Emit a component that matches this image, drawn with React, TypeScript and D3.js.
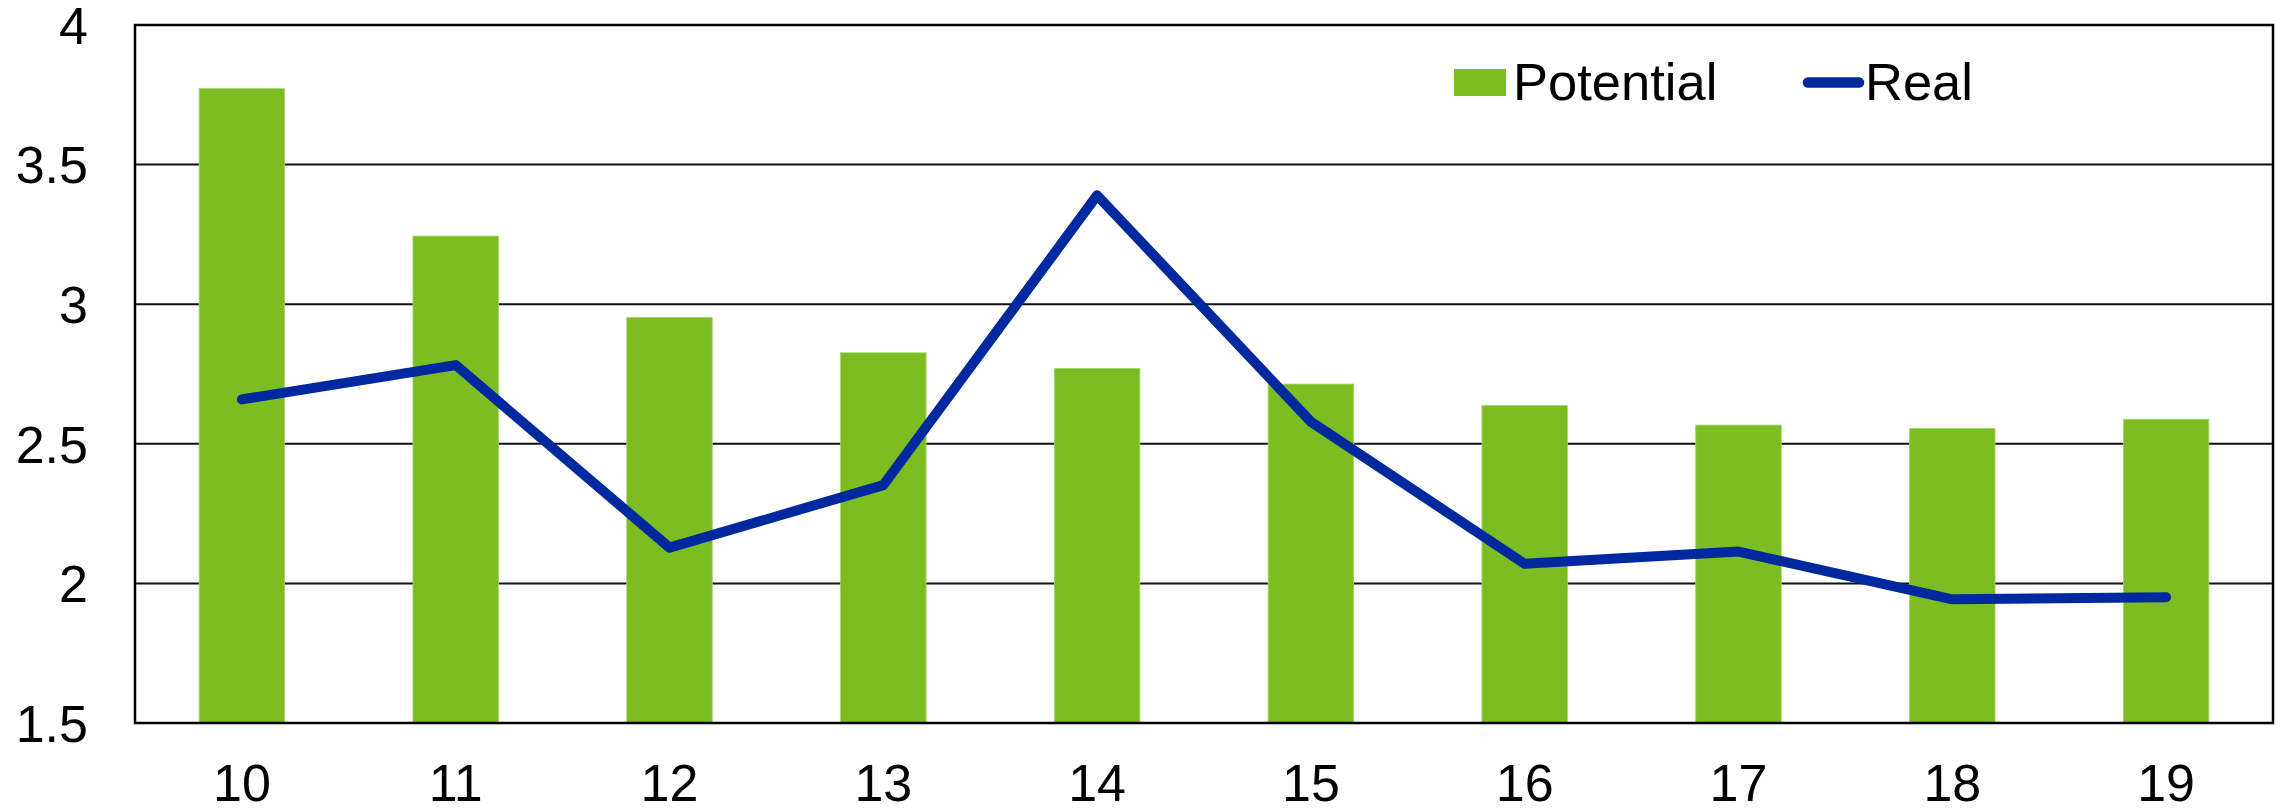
import React from "react";
import * as d3 from "d3";

const categories = ["10", "11", "12", "13", "14", "15", "16", "17", "18", "19"];
const potential = [3.772, 3.244, 2.952, 2.826, 2.77, 2.714, 2.637, 2.567, 2.555, 2.588];
const real = [2.659, 2.782, 2.128, 2.352, 3.39, 2.579, 2.07, 2.114, 1.943, 1.95];
const yTicks = [1.5, 2, 2.5, 3, 3.5, 4];
const yTickLabels = ["1.5", "2", "2.5", "3", "3.5", "4"];
const legendLabels = ["Potential", "Real"];

const W = 2280;
const H = 808;
const plot = { left: 135, right: 2273, top: 25, bottom: 723 };
const GREEN = "#7BBD22";
const BLUE = "#0029A0";
const FONT = "'Liberation Sans', Arial, sans-serif";

export default function App() {
  const x = d3
    .scaleBand<string>()
    .domain(categories)
    .range([plot.left, plot.right])
    .paddingInner(0.6)
    .paddingOuter(0.3);
  const y = d3.scaleLinear().domain([1.5, 4]).range([plot.bottom, plot.top]);

  const line = d3
    .line<number>()
    .x((_, i) => (x(categories[i]) as number) + x.bandwidth() / 2)
    .y((d) => y(d));

  return (
    <svg
      width={W}
      height={H}
      style={{ position: "absolute", left: 0, top: 0, background: "#fff" }}
      fontFamily={FONT}
    >
      <rect x={0} y={0} width={W} height={H} fill="#fff" />
      {/* gridlines */}
      {yTicks.map((t) => (
        <line
          key={"g" + t}
          x1={plot.left}
          x2={plot.right}
          y1={y(t)}
          y2={y(t)}
          stroke="#111"
          strokeWidth={2}
        />
      ))}
      {/* bars */}
      {potential.map((v, i) => (
        <rect
          key={"b" + i}
          x={x(categories[i])}
          y={y(v)}
          width={x.bandwidth()}
          height={y(1.5) - y(v)}
          fill={GREEN}
          stroke="#A6D46A"
          strokeWidth={0.8}
        />
      ))}
      {/* frame */}
      <rect
        x={plot.left}
        y={plot.top}
        width={plot.right - plot.left}
        height={plot.bottom - plot.top}
        fill="none"
        stroke="#000"
        strokeWidth={2.5}
      />
      {/* line */}
      <path
        d={line(real) || ""}
        fill="none"
        stroke={BLUE}
        strokeWidth={10}
        strokeLinejoin="round"
        strokeLinecap="round"
      />
      {/* y tick labels */}
      {yTicks.map((t, i) => (
        <text
          key={"yl" + t}
          x={88}
          y={y(t)}
          dy="0.36em"
          textAnchor="end"
          fontSize={52}
          fill="#000"
        >
          {yTickLabels[i]}
        </text>
      ))}
      {/* x tick labels */}
      {categories.map((c) => (
        <text
          key={"xl" + c}
          x={(x(c) as number) + x.bandwidth() / 2}
          y={801}
          textAnchor="middle"
          fontSize={52}
          fill="#000"
        >
          {c}
        </text>
      ))}
      {/* legend */}
      <rect x={1454} y={69} width={52} height={27} fill={GREEN} />
      <text x={1513} y={100} fontSize={52.5} fill="#000">
        {legendLabels[0]}
      </text>
      <line
        x1={1808}
        x2={1859}
        y1={82.5}
        y2={82.5}
        stroke={BLUE}
        strokeWidth={10.5}
        strokeLinecap="round"
      />
      <text x={1865} y={100} fontSize={52.5} fill="#000">
        {legendLabels[1]}
      </text>
    </svg>
  );
}
